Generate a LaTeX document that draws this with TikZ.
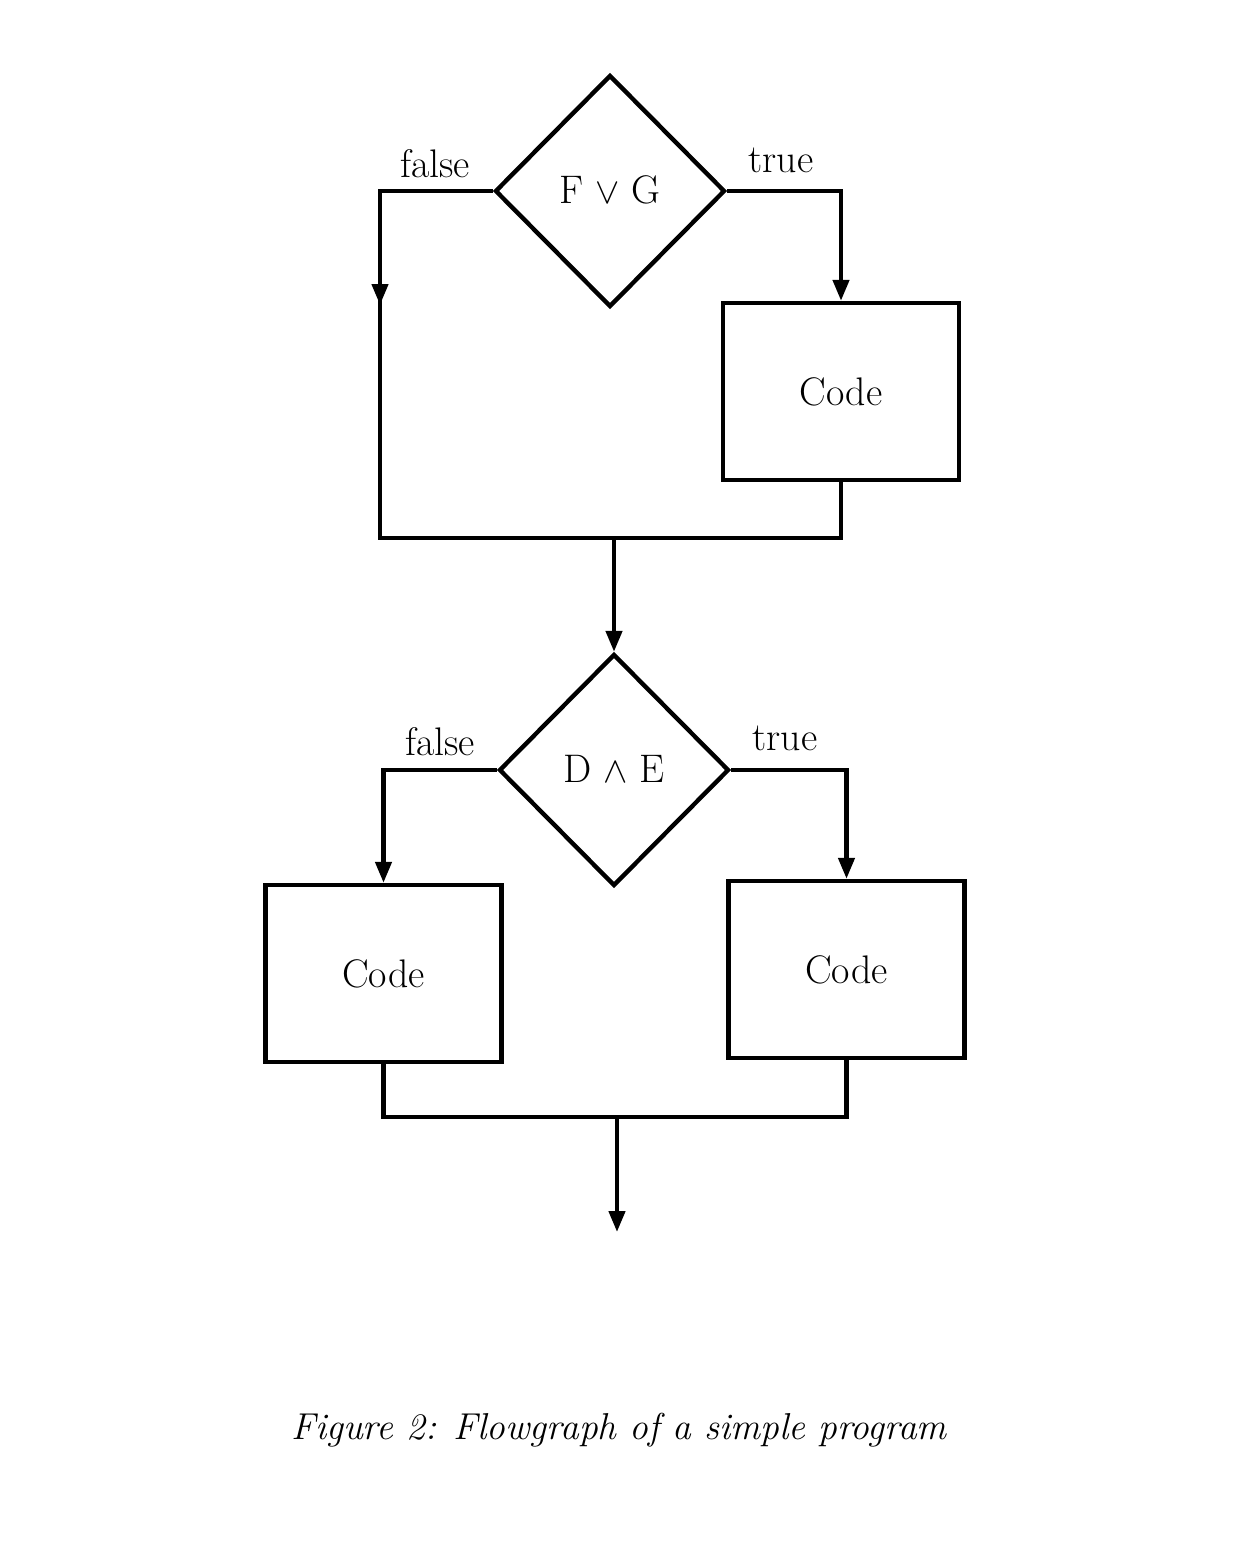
\documentclass[tikz,border=0pt]{standalone}
\usetikzlibrary{shapes.geometric,arrows.meta}
\begin{document}
\begin{tikzpicture}[x=0.02cm,y=-0.02cm,line width=2.5pt,
  >={Triangle[length=0.42cm,width=0.32cm]},
  font=\fontsize{22.7}{27}\selectfont,
  dec/.style={diamond,draw,minimum width=4.6cm,minimum height=4.64cm,inner sep=0pt},
  codebox/.style={rectangle,draw,minimum width=4.72cm,minimum height=3.54cm,inner sep=0pt},
  lbl/.style={inner sep=0pt,anchor=base}]
\useasboundingbox (0,0) rectangle (1234,1552);
\fill[white] (0,0) rectangle (1234,1552);
% nodes
\node[dec] (d1) at (610,191) {};
\node[lbl] (t1) at (610,203) {F $\vee$ G};
\node[codebox] (c1) at (841,391.5) {Code};
\node[dec] (d2) at (614,770) {};
\node[lbl] (t2) at (614,782) {D $\wedge$ E};
\node[codebox] (c2) at (383.5,973.5) {Code};
\node[codebox] (c3) at (846.5,969.5) {Code};
% labels
\node[lbl] (f1) at (435,177) {false};
\node[lbl] (tr1) at (781,172) {true};
\node[lbl] (f2) at (440,755) {false};
\node[lbl] (tr2) at (785,750) {true};
\node[lbl,font=\fontsize{21.3}{26}\selectfont] (cap) at (619,1439) {\itshape Figure 2: Flowgraph of a simple program};
% coordinates
\coordinate (m0) at (380,260);
\coordinate (m1) at (380,305);
\coordinate (j1) at (614,538);
\coordinate (j2) at (617,1117);
\coordinate (e) at (617,1232);
% connectors
\draw[->] (d1.east) -| (c1.north);
\draw (d1.west) -| (m1) |- (j1);
\draw[->] (m0) -- (m1);
\draw (c1.south) |- (j1);
\draw[->] (j1) -- (d2.north);
\draw[->] (d2.west) -| (c2.north);
\draw[->] (d2.east) -| (c3.north);
\draw (c2.south) |- (j2);
\draw (c3.south) |- (j2);
\draw[->] (j2) -- (e);
\end{tikzpicture}
\end{document}
